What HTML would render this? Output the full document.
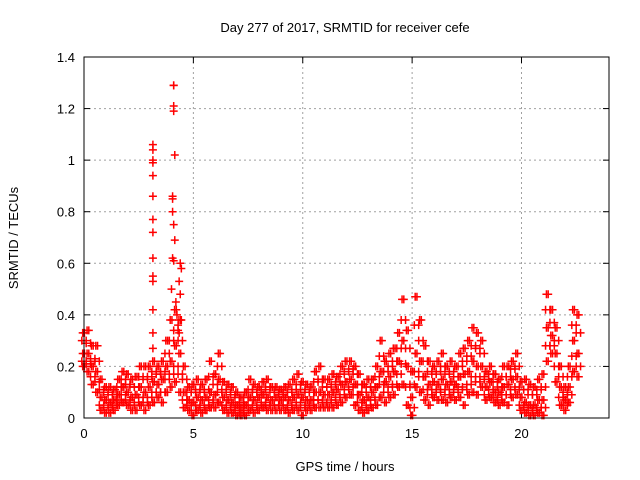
<!DOCTYPE html>
<html><head><meta charset="utf-8"><style>
body{margin:0;background:#fff;}
svg{display:block;font-family:"Liberation Sans",sans-serif;font-size:12px;}
</style></head><body>
<svg id="chart" width="640" height="480" viewBox="0 0 640 480">
<rect width="640" height="480" fill="#fff"/>
<text x="345" y="32" text-anchor="middle" font-size="13">Day 277 of 2017, SRMTID for receiver cefe</text>
<g id="grid"></g>
<g id="axes"></g>
<g id="marks"></g>
<rect x="84" y="57" width="525" height="361" fill="none" stroke="#000" stroke-width="1"/>
<text x="345" y="471" text-anchor="middle" font-size="13">GPS time / hours</text>
<text x="18" y="238" text-anchor="middle" font-size="13" transform="rotate(-90 18 238)">SRMTID / TECUs</text>
</svg>
<script>
const xTicks=[0,5,10,15,20];
const yTicks=[0,0.2,0.4,0.6,0.8,1,1.2,1.4];
const yTickLabels=["0","0.2","0.4","0.6","0.8","1","1.2","1.4"];
const times=[0,0.2,0.4,0.6,0.8,1,1.2,1.4,1.6,1.8,2,2.2,2.4,2.6,2.8,3,3.2,3.4,3.6,3.8,4,4.2,4.4,4.6,4.8,5,5.2,5.4,5.6,5.8,6,6.2,6.4,6.6,6.8,7,7.2,7.4,7.6,7.8,8,8.2,8.4,8.6,8.8,9,9.2,9.4,9.6,9.8,10,10.2,10.4,10.6,10.8,11,11.2,11.4,11.6,11.8,12,12.2,12.4,12.6,12.8,13,13.2,13.4,13.6,13.8,14,14.2,14.4,14.6,14.8,15,15.2,15.4,15.6,15.8,16,16.2,16.4,16.6,16.8,17,17.2,17.4,17.6,17.8,18,18.2,18.4,18.6,18.8,19,19.2,19.4,19.6,19.8,20,20.2,20.4,20.6,20.8,21,21.2,21.4,21.6,21.8,22,22.2,22.4,22.6];
const hiVals=[.33,.34,.28,.28,.15,.12,.12,.11,.15,.18,.17,.15,.16,.20,.20,.20,.22,.20,.22,.30,.38,.42,.38,.20,.12,.13,.15,.13,.15,.22,.17,.25,.14,.13,.12,.10,.08,.10,.15,.13,.12,.14,.15,.12,.12,.11,.12,.13,.15,.17,.14,.13,.12,.18,.20,.15,.15,.17,.16,.20,.22,.22,.20,.17,.13,.15,.15,.20,.30,.22,.25,.27,.33,.46,.34,.18,.47,.38,.28,.22,.20,.22,.25,.20,.22,.20,.25,.27,.30,.35,.33,.30,.18,.20,.17,.15,.20,.20,.22,.25,.14,.15,.13,.12,.15,.17,.48,.42,.35,.20,.12,.20,.42,.40];
const hiMidVals=[.30,.29,.23,.22,.11,.10,.09,.09,.12,.15,.13,.12,.12,.16,.15,.16,.18,.17,.18,.25,.30,.34,.30,.15,.10,.10,.11,.10,.11,.16,.13,.20,.11,.10,.09,.08,.06,.08,.11,.10,.10,.11,.12,.10,.10,.09,.10,.10,.11,.13,.11,.10,.10,.14,.15,.12,.12,.13,.14,.17,.18,.19,.17,.13,.10,.12,.12,.16,.24,.18,.20,.22,.27,.38,.27,.13,.36,.30,.22,.18,.17,.18,.20,.17,.18,.16,.20,.22,.24,.28,.27,.25,.15,.17,.14,.12,.16,.16,.19,.20,.11,.11,.09,.09,.11,.12,.42,.37,.30,.16,.10,.16,.36,.33];
const midVals=[.25,.25,.20,.18,.08,.07,.06,.07,.09,.12,.10,.08,.09,.12,.10,.12,.14,.13,.15,.20,.22,.28,.25,.10,.07,.06,.08,.07,.08,.10,.09,.15,.08,.07,.06,.05,.04,.05,.08,.07,.08,.09,.08,.07,.08,.07,.08,.07,.08,.09,.08,.07,.07,.10,.10,.09,.09,.10,.11,.13,.14,.15,.13,.09,.07,.08,.10,.12,.18,.14,.16,.18,.22,.30,.20,.08,.25,.22,.16,.13,.14,.13,.15,.13,.14,.13,.16,.17,.18,.22,.20,.20,.12,.14,.10,.10,.12,.13,.15,.16,.08,.06,.05,.05,.07,.07,.35,.32,.25,.12,.07,.12,.30,.25];
const loMidVals=[.22,.21,.16,.14,.05,.04,.04,.05,.07,.09,.07,.05,.06,.08,.06,.08,.10,.10,.10,.15,.17,.20,.17,.07,.05,.03,.05,.04,.05,.07,.06,.10,.05,.04,.04,.03,.02,.03,.05,.04,.05,.06,.05,.05,.05,.05,.05,.04,.05,.06,.04,.05,.05,.07,.07,.06,.06,.07,.08,.09,.11,.12,.09,.06,.04,.05,.07,.08,.13,.10,.12,.13,.17,.21,.12,.04,.18,.16,.11,.09,.11,.10,.11,.09,.11,.10,.12,.11,.13,.16,.14,.16,.09,.11,.08,.07,.09,.09,.11,.12,.05,.04,.03,.03,.04,.04,.28,.28,.20,.08,.05,.09,.24,.20];
const loVals=[.20,.18,.13,.10,.03,.02,.02,.03,.05,.06,.05,.03,.03,.05,.03,.05,.06,.08,.06,.10,.12,.14,.10,.04,.03,.01,.03,.02,.03,.04,.04,.06,.03,.02,.02,.01,.01,.01,.03,.02,.03,.04,.03,.03,.03,.03,.03,.02,.03,.03,.01,.03,.03,.04,.04,.04,.04,.04,.05,.06,.08,.09,.05,.03,.02,.03,.04,.05,.08,.06,.08,.09,.12,.13,.05,.01,.12,.10,.07,.05,.08,.07,.07,.06,.08,.07,.08,.05,.09,.10,.09,.12,.07,.08,.06,.05,.06,.05,.08,.09,.03,.02,.01,.01,.02,.01,.22,.25,.14,.05,.03,.06,.18,.16];
const spikeTimes=[3.15,3.15,3.15,3.15,3.15,3.15,3.15,3.15,3.15,3.15,3.15,3.15,3.15,3.15,4.1,4.1,4.1,4.1,4.15,4.05,4.05,4.05,4.1,4.15,4.05,4.1,4.0,4.2,4.25,4.3,4.4,4.45,4.35,4.4,4.45,4.35];
const spikeVals=[1.06,1.04,1.0,0.99,0.94,0.86,0.77,0.72,0.62,0.55,0.53,0.42,0.33,0.27,1.29,1.29,1.21,1.19,1.02,0.86,0.85,0.8,0.75,0.69,0.62,0.61,0.5,0.45,0.40,0.36,0.60,0.58,0.53,0.48,0.38,0.33];
const NS="http://www.w3.org/2000/svg";
const L=84,R=609,T=57,B=418,XMAX=24,YMAX=1.4;
function xs(v){return L+v/XMAX*(R-L);}
function ys(v){return B-v/YMAX*(B-T);}
const grid=document.getElementById('grid'),axes=document.getElementById('axes'),marks=document.getElementById('marks');
function mk(tag,attrs,parent){const e=document.createElementNS(NS,tag);for(const k in attrs)e.setAttribute(k,attrs[k]);parent.appendChild(e);return e;}
xTicks.forEach(t=>{
  const x=xs(t);
  if(t>0){const g=mk('line',{x1:x,x2:x,y1:T,y2:B,stroke:'#a0a0a0','stroke-dasharray':'2,3'},grid);
  
  }
  const tk=mk('line',{x1:x,x2:x,y1:B,y2:B-6,stroke:'#000'},axes);
  
  
  const tk2=mk('line',{x1:x,x2:x,y1:T,y2:T+6,stroke:'#000'},axes);
  
  
  const lb=mk('text',{x:x,y:B+20,'text-anchor':'middle','font-size':13},axes);lb.textContent=String(t);
  
  
});
yTicks.forEach((t,i)=>{
  const y=ys(t);
  if(t>0&&t<YMAX){const g=mk('line',{x1:L,x2:R,y1:y,y2:y,stroke:'#a0a0a0','stroke-dasharray':'2,3'},grid);
  
  }
  const tk=mk('line',{x1:L,x2:L+6,y1:y,y2:y,stroke:'#000'},axes);
  
  
  const tk2=mk('line',{x1:R,x2:R-6,y1:y,y2:y,stroke:'#000'},axes);
  
  
  const lb=mk('text',{x:L-9,y:y+5,'text-anchor':'end','font-size':13},axes);lb.textContent=yTickLabels[i];
  
  
});
function plus(t,v,color){
  const x=xs(t),y=ys(v);
  const p=mk('path',{d:`M${x-4},${y}H${x+4}M${x},${y-4}V${y+4}`,stroke:color,'stroke-width':1.5,fill:'none'},marks);
  
  
}
[loVals,midVals,hiVals].forEach(arr=>{
  times.forEach((t,i)=>{
    plus(t-0.06,arr[i],'#ff0000');
    plus(t+0.02,arr[i],'#ff0000');
  });
});
[loMidVals,hiMidVals].forEach(arr=>{
  times.forEach((t,i)=>{
    plus(t+0.1,arr[i],'#ff0000');
    plus(t-0.1,arr[i],'#ff0000');
  });
});
spikeTimes.forEach((t,i)=>plus(t,spikeVals[i],'#ff0000'));
</script>
</body></html>
